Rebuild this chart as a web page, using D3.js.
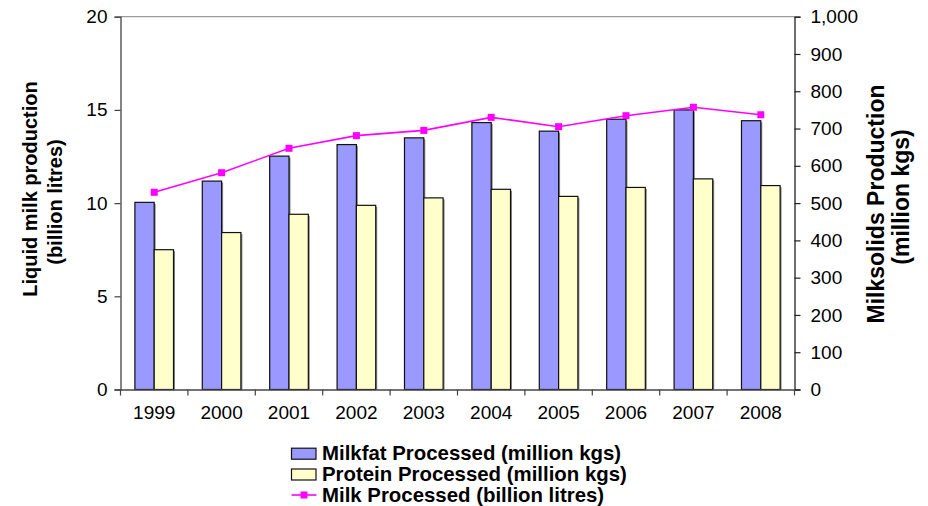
<!DOCTYPE html>
<html>
<head>
<meta charset="utf-8">
<script src="https://cdn.jsdelivr.net/npm/d3@7"></script>
<style>
  html, body { margin: 0; padding: 0; background: #fff; }
  svg { display: block; font-family: "Liberation Sans", Arial, sans-serif; }
</style>
</head>
<body>
<svg id="chart" width="928" height="506"></svg>
<script>
// Years on the category axis
const years = ["1999", "2000", "2001", "2002", "2003", "2004", "2005", "2006", "2007", "2008"];
// Milkfat processed, million kgs (right axis)
const milkfat = [502, 559, 626, 657, 675, 716, 693, 725, 750, 721];
// Protein processed, million kgs (right axis)
const protein = [375, 421, 470, 494, 514, 537, 518, 542, 565, 547];
// Milk processed, billion litres (left axis)
const milk = [10.58, 11.63, 12.94, 13.62, 13.90, 14.60, 14.10, 14.69, 15.14, 14.74];
// Tick values
const leftTicks = [0, 5, 10, 15, 20];
const rightTicks = [0, 100, 200, 300, 400, 500, 600, 700, 800, 900, 1000];

const seriesNames = ["Milkfat Processed (million kgs)", "Protein Processed (million kgs)", "Milk Processed (billion litres)"];
const barKeys = ["milkfat", "protein"];
const barColors = { milkfat: "#9999FF", protein: "#FFFFCC" };
const lineColor = "#FF00FF";

const svg = d3.select("#chart");
const plot = { left: 120.5, right: 794.5, top: 16.7, bottom: 389.5 };

const x = d3.scaleBand().domain(years).range([plot.left, plot.right]).padding(0);
const xInner = d3.scaleBand().domain(barKeys).range([0, x.bandwidth()]).paddingInner(0).paddingOuter(0.745);
const yLeft = d3.scaleLinear().domain([0, 20]).range([plot.bottom, plot.top]);
const yRight = d3.scaleLinear().domain([0, 1000]).range([plot.bottom, plot.top]);

// Plot-area top border
svg.append("line")
  .attr("x1", plot.left).attr("x2", plot.right)
  .attr("y1", plot.top).attr("y2", plot.top)
  .attr("stroke", "#9a9a9a").attr("stroke-width", 1.3);

// Bars
const rows = years.map((yr, i) => ({ year: yr, milkfat: milkfat[i], protein: protein[i] }));
const groups = svg.append("g").selectAll("g").data(rows).join("g")
  .attr("transform", d => `translate(${x(d.year)},0)`);

// soft shadow to the right of each bar
groups.selectAll("rect.shadow").data(d => barKeys.map(k => ({ key: k, value: d[k] })))
  .join("rect").attr("class", "shadow")
  .attr("x", d => xInner(d.key) + 1.5)
  .attr("y", d => yRight(d.value) + 1.5)
  .attr("width", xInner.bandwidth())
  .attr("height", d => plot.bottom - yRight(d.value) - 1.5)
  .attr("fill", "#8a8a8a");

groups.selectAll("rect.bar").data(d => barKeys.map(k => ({ key: k, value: d[k] })))
  .join("rect").attr("class", "bar")
  .attr("x", d => xInner(d.key))
  .attr("y", d => yRight(d.value))
  .attr("width", xInner.bandwidth())
  .attr("height", d => plot.bottom - yRight(d.value))
  .attr("fill", d => barColors[d.key])
  .attr("stroke", "#111").attr("stroke-width", 1.2);

// Left axis
const axisFont = "19px";
const gLeft = svg.append("g").attr("transform", `translate(${plot.left},0)`)
  .call(d3.axisLeft(yLeft).tickValues(leftTicks).tickSize(6).tickPadding(7).tickFormat(d3.format("d")));
gLeft.select(".domain").attr("stroke", "#444").attr("stroke-width", 1.3);
gLeft.selectAll(".tick line").attr("stroke", "#444").attr("stroke-width", 1.2);
gLeft.selectAll("text").attr("font-size", axisFont).attr("fill", "#000")
  .attr("font-family", "Liberation Sans, Arial, sans-serif");

// Right axis
const gRight = svg.append("g").attr("transform", `translate(${plot.right},0)`)
  .call(d3.axisRight(yRight).tickValues(rightTicks).tickSize(6).tickPadding(10).tickFormat(d3.format(",")));
gRight.select(".domain").attr("stroke", "#222").attr("stroke-width", 1.3);
gRight.selectAll(".tick line").attr("stroke", "#222").attr("stroke-width", 1.2);
gRight.selectAll("text").attr("font-size", axisFont).attr("fill", "#000")
  .attr("font-family", "Liberation Sans, Arial, sans-serif");

// Category axis
const gBottom = svg.append("g").attr("transform", `translate(0,${plot.bottom})`)
  .call(d3.axisBottom(x).tickSize(0).tickPadding(16));
gBottom.select(".domain").attr("stroke", "#444").attr("stroke-width", 1.3);
gBottom.selectAll("text").attr("font-size", axisFont).attr("fill", "#000")
  .attr("font-family", "Liberation Sans, Arial, sans-serif");
// tick marks between categories
const boundaries = years.map(y => x(y)).concat([plot.right]);
gBottom.selectAll("line.sep").data(boundaries).join("line").attr("class", "sep")
  .attr("x1", d => d).attr("x2", d => d).attr("y1", 0).attr("y2", 6)
  .attr("stroke", "#444").attr("stroke-width", 1.2);

// Milk processed line with square markers
const cx = i => x(years[i]) + x.bandwidth() / 2;
const line = d3.line().x((d, i) => cx(i)).y(d => yLeft(d));
svg.append("path").datum(milk).attr("d", line)
  .attr("fill", "none").attr("stroke", lineColor).attr("stroke-width", 1.6);
svg.append("g").selectAll("rect").data(milk).join("rect")
  .attr("x", (d, i) => cx(i) - 3.5).attr("y", d => yLeft(d) - 3.5)
  .attr("width", 7).attr("height", 7).attr("fill", lineColor);

// Axis titles
function vTitle(text, tx, ty, size) {
  svg.append("text").attr("font-weight", "bold").attr("font-size", size)
    .attr("text-anchor", "middle").attr("transform", `translate(${tx},${ty}) rotate(-90)`)
    .text(text);
}
vTitle("Liquid milk production", 37, 189, "20px");
vTitle("(billion litres)", 62, 202, "20px");
vTitle("Milksolids Production", 884, 204, "23px");
vTitle("(million kgs)", 909, 197, "23px");

// Legend
const legendFont = "20.4px";
const legend = svg.append("g").attr("transform", "translate(291.5,0)");
const legendRows = [
  { name: seriesNames[0], type: "bar", color: barColors.milkfat, y: 453.7 },
  { name: seriesNames[1], type: "bar", color: barColors.protein, y: 474.5 },
  { name: seriesNames[2], type: "line", color: lineColor, y: 495 }
];
legendRows.forEach(r => {
  if (r.type === "bar") {
    legend.append("rect").attr("x", 0).attr("y", r.y - 5.5).attr("width", 24.5).attr("height", 11)
      .attr("fill", r.color).attr("stroke", "#111").attr("stroke-width", 1.2);
  } else {
    legend.append("line").attr("x1", 0).attr("x2", 25).attr("y1", r.y).attr("y2", r.y)
      .attr("stroke", r.color).attr("stroke-width", 1.6);
    legend.append("rect").attr("x", 9).attr("y", r.y - 3.5).attr("width", 7).attr("height", 7)
      .attr("fill", r.color);
  }
  legend.append("text").attr("x", 30.5).attr("y", r.y + 6.7)
    .attr("font-weight", "bold").attr("font-size", legendFont).text(r.name);
});
</script>
</body>
</html>
